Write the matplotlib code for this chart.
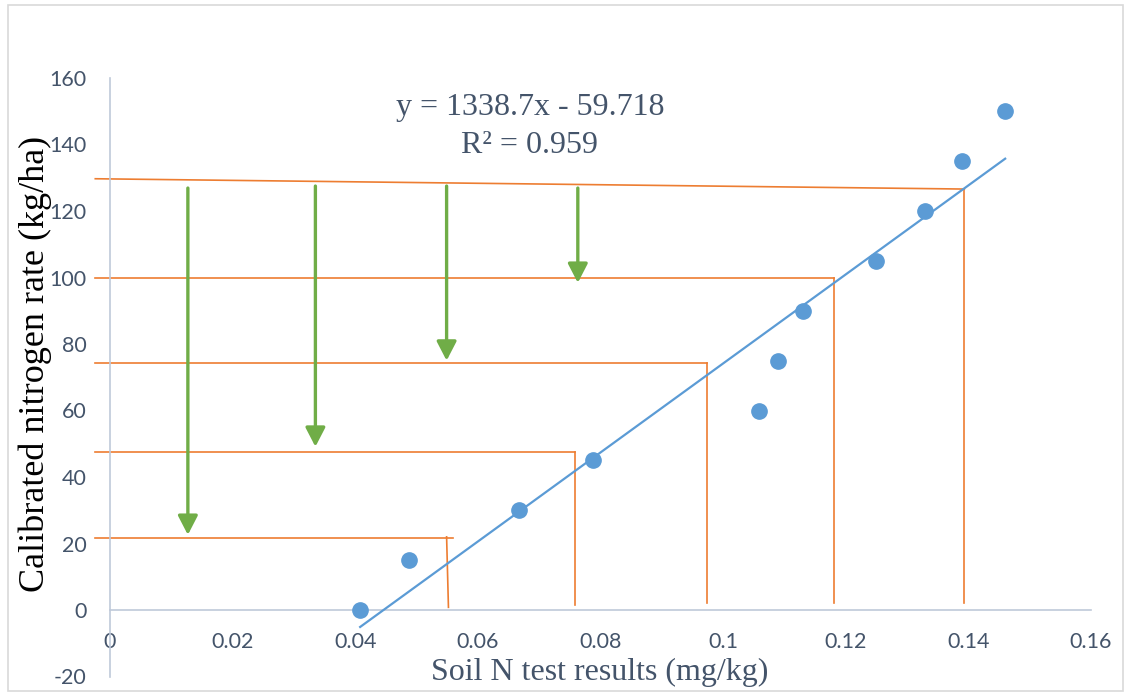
import matplotlib
matplotlib.use("Agg")
import matplotlib.pyplot as plt
from matplotlib.patches import Rectangle

# ---- data ----
soil_n = [0.0408, 0.0488, 0.0667, 0.0788, 0.1059, 0.1090, 0.1130, 0.1249, 0.1330, 0.1390, 0.1460]
n_rate = [0, 15, 30, 45, 60, 75, 90, 105, 120, 135, 150]
slope, intercept = 1338.7, -59.718
eq_text = "y = 1338.7x - 59.718"
r2_text = "R² = 0.959"
x_ticks = [0, 0.02, 0.04, 0.06, 0.08, 0.10, 0.12, 0.14, 0.16]
x_tick_labels = ["0", "0.02", "0.04", "0.06", "0.08", "0.1", "0.12", "0.14", "0.16"]
y_ticks = [-20, 0, 20, 40, 60, 80, 100, 120, 140, 160]
y_tick_labels = ["-20", "0", "20", "40", "60", "80", "100", "120", "140", "160"]

# guide lines
guide_left_x = -0.0024
guide_hy_left = [129.7, 99.8, 74.4, 47.6, 21.6]
guide_hy_right = [126.6, 99.8, 74.4, 47.6, 21.6]
guide_hx_end = [0.13934, 0.1181, 0.0973, 0.0758, 0.0559]
guide_vx_top = [0.13934, 0.1181, 0.0973, 0.0758, 0.0549]
guide_vy_top = [126.6, 99.8, 74.4, 47.6, 22.0]
guide_vx_bot = [0.13934, 0.1181, 0.0973, 0.0758, 0.0552]
guide_vy_bot = [2.0, 2.0, 2.0, 1.5, 0.8]

# green arrows: x, top, tip
arrow_x = [0.0127, 0.0335, 0.0549, 0.0763]
arrow_top = [126.9, 127.5, 127.5, 126.9]
arrow_tip = [22.6, 49.1, 75.0, 98.4]

BLUE = "#5B9BD5"
ORANGE = "#ED7D31"
GREEN = "#70AD47"
TXT = "#44546A"
AXC = "#BFC9D9"

fig = plt.figure(figsize=(11.28, 6.93), dpi=100)
fig.add_artist(Rectangle((8 / 1128, 1 - 691 / 693), (1123 - 8) / 1128, (691 - 5) / 693,
                         transform=fig.transFigure, fill=False, ec="#D9D9D9", lw=1.2))

ax = fig.add_axes([110 / 1128, (693 - 676.5) / 693, 981 / 1128, (676.5 - 78) / 693])
ax.set_xlim(0, 0.16)
ax.set_ylim(-20, 160)
for s in ["top", "right"]:
    ax.spines[s].set_visible(False)
ax.spines["left"].set_color(AXC)
ax.spines["bottom"].set_color(AXC)
ax.spines["left"].set_linewidth(1.2)
ax.spines["bottom"].set_linewidth(1.2)
ax.spines["bottom"].set_position(("data", 0))

ax.set_xticks(x_ticks)
ax.set_xticklabels(x_tick_labels)
ax.set_yticks(y_ticks)
ax.set_yticklabels(y_tick_labels)
ax.tick_params(axis="x", length=0, pad=16, labelsize=15.5, labelcolor=TXT)
ax.tick_params(axis="y", length=0, pad=17, labelsize=15.5, labelcolor=TXT)
for lab in ax.get_xticklabels() + ax.get_yticklabels():
    lab.set_fontfamily("Lato")

# orange guide lines
for i in range(len(guide_hy_left)):
    ax.plot([guide_left_x, guide_hx_end[i]], [guide_hy_left[i], guide_hy_right[i]],
            color=ORANGE, lw=1.2, clip_on=False, zorder=2)
    ax.plot([guide_vx_top[i], guide_vx_bot[i]], [guide_vy_top[i], guide_vy_bot[i]],
            color=ORANGE, lw=1.2, clip_on=False, zorder=2)

# green arrows
for x, t, b in zip(arrow_x, arrow_top, arrow_tip):
    ax.annotate("", xy=(x, b), xytext=(x, t),
                arrowprops=dict(arrowstyle="-|>,head_width=0.3,head_length=0.58",
                                mutation_scale=20, lw=2.4, color=GREEN,
                                shrinkA=0, shrinkB=0), zorder=3)

# trendline
x0, x1 = min(soil_n), max(soil_n)
ax.plot([x0, x1], [slope * x0 + intercept, slope * x1 + intercept], color=BLUE, lw=1.6, zorder=4)

# scatter
ax.plot(soil_n, n_rate, "o", color=BLUE, ms=11, mec=BLUE, zorder=5, clip_on=False)

# equation
ax.text(0.0685, 151.0, eq_text, ha="center", va="center", fontsize=23,
        family="Liberation Serif", color=TXT)
ax.text(0.0685, 139.8, r2_text, ha="center", va="center", fontsize=23,
        family="Liberation Serif", color=TXT)

# axis titles
fig.text(600 / 1128, 1 - 672 / 693, "Soil N test results (mg/kg)", ha="center", va="center",
         fontsize=23, family="Liberation Serif", color=TXT)
fig.text(35 / 1128, 1 - 364 / 693, "Calibrated nitrogen rate (kg/ha)", ha="center", va="center",
         rotation=90, fontsize=26, family="Liberation Serif", color="black")

fig.savefig("out.png", dpi=100)
